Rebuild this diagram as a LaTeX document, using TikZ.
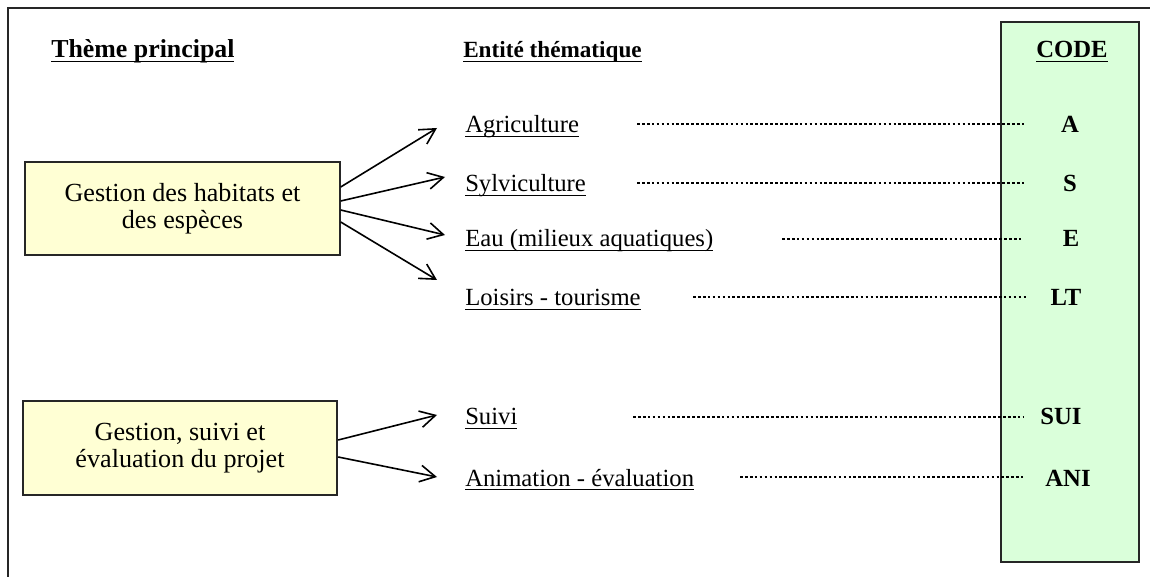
\documentclass[tikz,border=0pt]{standalone}
\usepackage{fontspec}
\setmainfont{Liberation Serif}
\usetikzlibrary{arrows.meta,calc}
\definecolor{boxyellow}{RGB}{255,255,212}
\definecolor{codegreen}{RGB}{218,255,218}
\newcommand\ulx[1]{\setbox0\hbox{#1}\rlap{\usebox0}\rule[-3.2pt]{\wd0}{1.1pt}}
\begin{document}
\begin{tikzpicture}[x=0.75pt,y=-0.75pt,
  txt/.style={anchor=base west,inner sep=0pt,font=\fontsize{18.5}{22}\selectfont},
  hdr/.style={anchor=base west,inner sep=0pt},
  codetxt/.style={anchor=base,inner sep=0pt,font=\fontsize{18.5}{22}\selectfont\bfseries},
  themebox/.style={draw=black!85,line width=1.3pt,fill=boxyellow,align=center,
    minimum width=236pt,minimum height=70pt,inner sep=0pt,
    font=\fontsize{19.6}{20}\selectfont},
  dotline/.style={line width=2.2pt,dash pattern=on 2pt off 1.7pt},
  arr/.style={line width=1.2pt,-{Straight Barb[length=11.5pt,width=12.5pt,line width=1.2pt]}}]
\useasboundingbox (0,0) rectangle (1150,577);
% outer frame (cut at right and bottom)
\draw[line width=1.5pt,black!85] (1150,8) -- (8,8) -- (8,577);
% code column
\node[draw=black!85,line width=1.4pt,fill=codegreen,minimum width=103.5pt,minimum height=405pt,inner sep=0pt] (codebox) at (1070,292) {};
% headers
\node[hdr,font=\fontsize{19.4}{22}\selectfont\bfseries] (h1) at (51,58) {\ulx{Thème principal}};
\node[hdr,font=\fontsize{17.4}{22}\selectfont\bfseries] (h2) at (463,58) {\ulx{Entité thématique}};
\node[codetxt] (hc) at (1072,58) {\ulx{CODE}};
% theme boxes
\node[themebox] (b1) at (182.5,208.5) {Gestion des habitats et\\des espèces};
\node[themebox] (b2) at (180,448) {Gestion, suivi et\\évaluation du projet};
% entities
\node[txt] (e1) at (465,133) {\ulx{Agriculture}};
\node[txt] (e2) at (465,192) {\ulx{Sylviculture}};
\node[txt] (e3) at (465,247) {\ulx{Eau (milieux aquatiques)}};
\node[txt] (e4) at (465,306) {\ulx{Loisirs - tourisme}};
\node[txt] (e5) at (465,425) {\ulx{Suivi}};
\node[txt] (e6) at (465,486) {\ulx{Animation - évaluation}};
% codes
\node[codetxt] (c1) at (1070,133) {A};
\node[codetxt] (c2) at (1070,192) {S};
\node[codetxt] (c3) at (1071,247) {E};
\node[codetxt] (c4) at (1066,306) {LT};
\node[codetxt] (c5) at (1061,425) {SUI};
\node[codetxt] (c6) at (1068,486) {ANI};
% dotted leaders
\coordinate (d1a) at (637,124); \coordinate (d1b) at (1024,124);
\coordinate (d2a) at (637,183); \coordinate (d2b) at (1024,183);
\coordinate (d3a) at (782,239); \coordinate (d3b) at (1023,239);
\coordinate (d4a) at (693,297); \coordinate (d4b) at (1027,297);
\coordinate (d5a) at (633,417); \coordinate (d5b) at (1023,417);
\coordinate (d6a) at (740,477); \coordinate (d6b) at (1023,477);
\foreach \i in {1,...,6} {\draw[dotline] (d\i a) -- (d\i b);}
% arrow tips
\coordinate (t1) at (437,128);
\coordinate (t2) at (445,177);
\coordinate (t3) at (445,235);
\coordinate (t4) at (437,280);
\coordinate (t5) at (437,415);
\coordinate (t6) at (437,477);
\draw[arr] ($(b1.east)+(0,-21.5)$) -- (t1);
\draw[arr] ($(b1.east)+(0,-7.5)$) -- (t2);
\draw[arr] ($(b1.east)+(0,1.5)$) -- (t3);
\draw[arr] ($(b1.east)+(0,13.5)$) -- (t4);
\draw[arr] ($(b2.east)+(0,-8)$) -- (t5);
\draw[arr] ($(b2.east)+(0,9)$) -- (t6);
\end{tikzpicture}
\end{document}
